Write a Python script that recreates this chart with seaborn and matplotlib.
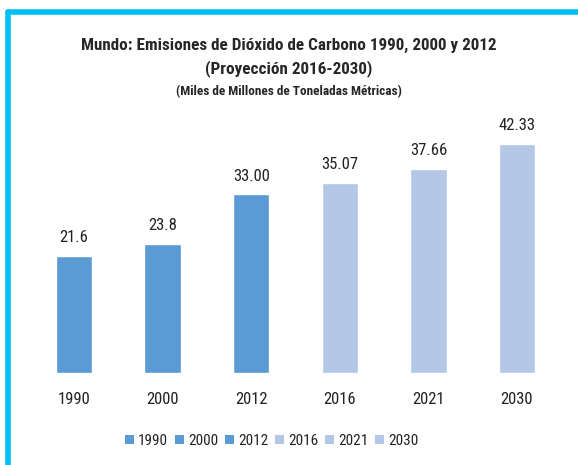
import matplotlib.pyplot as plt
import pandas as pd
import seaborn as sns
from matplotlib.lines import Line2D
from matplotlib.patches import Patch

years = ["1990", "2000", "2012", "2016", "2021", "2030"]
emissions = [21.6, 23.8, 33.00, 35.07, 37.66, 42.33]
value_labels = ["21.6", "23.8", "33.00", "35.07", "37.66", "42.33"]
kind = ["real", "real", "real", "proj", "proj", "proj"]

DARK = "#5B9BD5"
LIGHT = "#B4C7E7"
colors = {"real": DARK, "proj": LIGHT}

sns.set_style("white")
plt.rcParams["font.family"] = ["Liberation Sans Narrow", "DejaVu Sans Condensed",
                               "Roboto Condensed", "Liberation Sans", "DejaVu Sans"]

df = pd.DataFrame({"year": years, "value": emissions, "kind": kind})

fig = plt.figure(figsize=(5.78, 4.65), dpi=100)
ax = fig.add_axes([29.7 / 578, 1 - 373 / 465, (561.3 - 29.7) / 578, 0.55])

sns.barplot(data=df, x="year", y="value", hue="kind", palette=colors, saturation=1,
            dodge=False, width=0.41, legend=False, ax=ax)
ax.set_ylim(0, 0.55 * 465 / (229 / 42.33))
ax.set_xlim(-0.5, 5.5)

for i, (v, lab) in enumerate(zip(emissions, value_labels)):
    ax.text(i, v + 2.0, lab, ha="center", va="bottom", fontsize=12, color="#222222")

ax.set_xlabel("")
ax.set_ylabel("")
ax.set_yticks([])
ax.tick_params(axis="x", length=0, labelsize=12, pad=14, labelcolor="#222222")
sns.despine(ax=ax, left=True, bottom=True)

handles = [Patch(facecolor=colors[k], edgecolor="none") for k in kind]
fig.legend(handles, years, loc="center", bbox_to_anchor=(0.47, 1 - 441 / 465),
           ncol=6, frameon=False, fontsize=11, handlelength=0.6, handleheight=0.6,
           handletextpad=0.25, columnspacing=0.45, labelcolor="#222222")

fig.text(0.5, 1 - 45 / 465, "Mundo: Emisiones de Dióxido de Carbono 1990, 2000 y 2012",
         ha="center", va="center", fontsize=12.3, fontweight="bold")
fig.text(0.5, 1 - 69 / 465, "(Proyección 2016-2030)",
         ha="center", va="center", fontsize=12.3, fontweight="bold")
fig.text(0.5, 1 - 92 / 465, "(Miles de Millones de Toneladas Métricas)",
         ha="center", va="center", fontsize=9.5, fontweight="bold")

# cyan frame (top and left only, as in the reference)
fig.add_artist(Line2D([8 / 578, 1], [1 - 12 / 465, 1 - 12 / 465], color="#00BFF3", lw=4,
                      transform=fig.transFigure))
fig.add_artist(Line2D([8 / 578, 8 / 578], [0, 1 - 12 / 465], color="#00BFF3", lw=4,
                      transform=fig.transFigure))

fig.savefig("out.png", dpi=100)
